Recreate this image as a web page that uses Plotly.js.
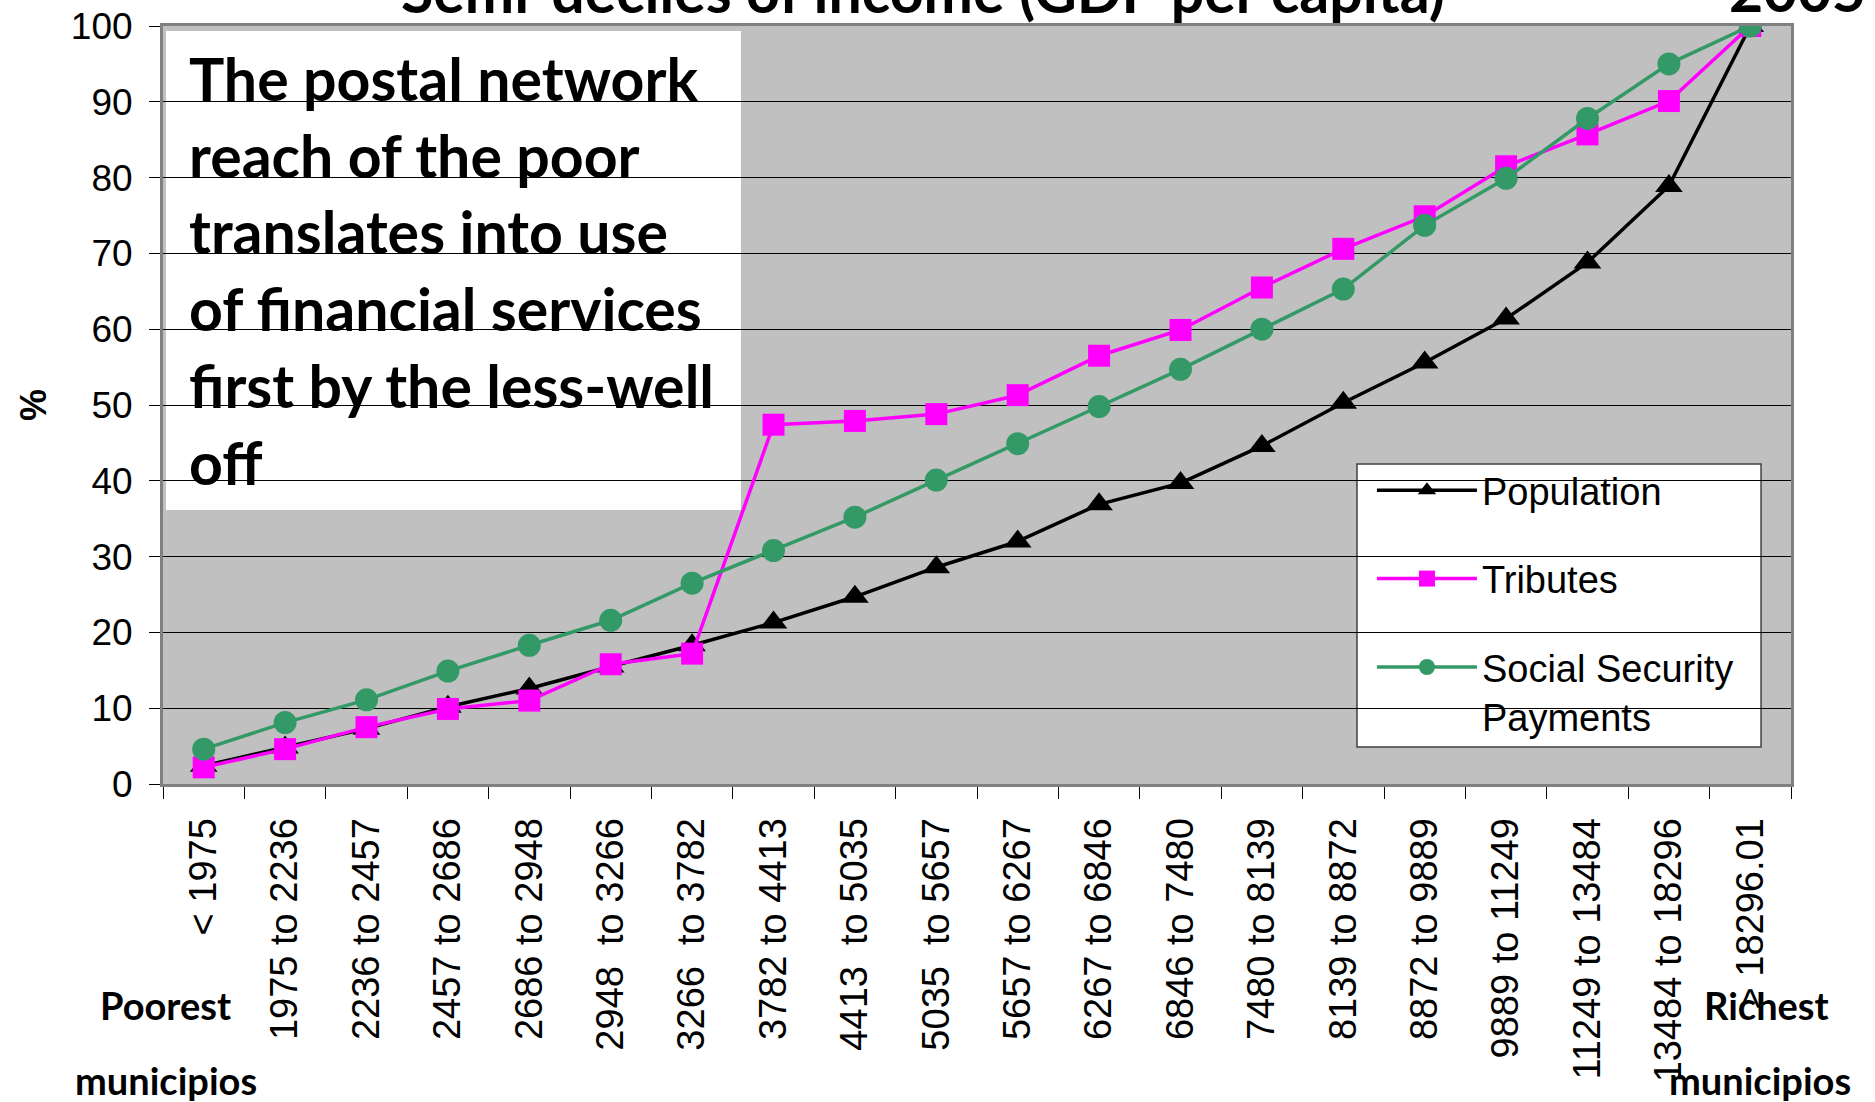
<!DOCTYPE html>
<html>
<head>
<meta charset="utf-8">
<script src="https://cdn.plot.ly/plotly-3.0.1.min.js"></script>
<style>
  html, body { margin: 0; padding: 0; background: #ffffff; }
  #chart { width: 1875px; height: 1102px; }
</style>
</head>
<body>
<div id="chart"></div>
<script>
// Income brackets (GDP per capita), poorest to richest municipios
const categories = [
  '< 1975', '1975 to 2236', '2236 to 2457', '2457 to 2686', '2686 to 2948',
  '2948\u00a0 to 3266', '3266\u00a0 to 3782', '3782 to 4413', '4413\u00a0 to 5035', '5035\u00a0 to 5657',
  '5657 to 6267', '6267 to 6846', '6846 to 7480', '7480 to 8139', '8139 to 8872',
  '8872 to 9889', '9889 to 11249', '11249 to 13484', '13484 to 18296', '> 18296.01'
];

// Cumulative shares (%)
const population = [2.4, 4.8, 7.3, 10.2, 12.6, 15.5, 18.3, 21.3, 24.7, 28.6,
                    32.0, 36.9, 39.7, 44.6, 50.3, 55.6, 61.4, 68.8, 78.9, 100];
const tributes   = [2.2, 4.6, 7.5, 9.9, 11.0, 15.8, 17.2, 47.4, 47.9, 48.8,
                    51.3, 56.5, 59.9, 65.5, 70.6, 74.9, 81.5, 85.7, 90.1, 100];
const socialSecurity = [4.6, 8.1, 11.1, 14.9, 18.3, 21.6, 26.5, 30.8, 35.2, 40.1,
                        44.9, 49.8, 54.7, 60.0, 65.3, 73.7, 79.9, 87.8, 95.0, 100];

const seriesNames = ['Population', 'Tributes', 'Social Security<br>Payments'];
const yTicks = [0, 10, 20, 30, 40, 50, 60, 70, 80, 90, 100];

const ARIAL = 'Liberation Sans, Arial, sans-serif';
const BOLD = 'Lato, Open Sans, sans-serif';

const traces = [
  {
    x: categories, y: population, name: seriesNames[0], type: 'scatter', mode: 'lines+markers',
    line: { color: '#000000', width: 3.5 },
    marker: { symbol: 'triangle-up', size: 24, color: '#000000' },
    legendgroup: 'a'
  },
  {
    x: categories, y: tributes, name: seriesNames[1], type: 'scatter', mode: 'lines+markers',
    line: { color: '#FF00FF', width: 3.5 },
    marker: { symbol: 'square', size: 22, color: '#FF00FF' },
    legendgroup: 'b'
  },
  {
    x: categories, y: socialSecurity, name: seriesNames[2], type: 'scatter', mode: 'lines+markers',
    line: { color: '#339966', width: 3.5 },
    marker: { symbol: 'circle', size: 23, color: '#339966' },
    legendgroup: 'c'
  }
];

const layout = {
  width: 1875, height: 1102,
  margin: { l: 163, r: 84, t: 26, b: 318, pad: 0 },
  paper_bgcolor: '#ffffff',
  plot_bgcolor: '#C0C0C0',
  showlegend: true,
  xaxis: {
    type: 'category',
    categoryorder: 'array', categoryarray: categories,
    range: [-0.5, categories.length - 0.5],
    tickson: 'boundaries',
    ticks: 'outside', ticklen: 12, tickwidth: 1, tickcolor: '#000000',
    tickangle: -90,
    tickfont: { family: ARIAL, size: 38, color: '#000000' },
    ticklabelstandoff: 16,
    showline: true, linecolor: '#808080', linewidth: 3, mirror: true,
    showgrid: false, zeroline: false, automargin: false, fixedrange: true
  },
  yaxis: {
    range: [0, 100], tickmode: 'array', tickvals: yTicks, ticktext: yTicks.map(String),
    ticks: 'outside', ticklen: 11, tickwidth: 1, tickcolor: '#000000',
    tickfont: { family: ARIAL, size: 37, color: '#000000' },
    ticklabelstandoff: 9,
    showgrid: true, gridcolor: '#000000', gridwidth: 1,
    showline: true, linecolor: '#808080', linewidth: 3, mirror: true,
    zeroline: false, automargin: false, fixedrange: true
  },
  legend: {
    x: 0.7426, y: 0.4288, xanchor: 'left', yanchor: 'top',
    bgcolor: 'rgba(0,0,0,0)', borderwidth: 0,
    font: { family: ARIAL, size: 38, color: '#000000' },
    itemwidth: 100, valign: 'top', tracegroupgap: 36, traceorder: 'grouped'
  },
  shapes: [
    // white note panel in the upper left of the plot
    {
      type: 'rect', xref: 'paper', yref: 'paper', layer: 'between',
      x0: 0.0018, x1: 0.3550, y0: 0.3615, y1: 0.9934,
      fillcolor: '#ffffff', line: { width: 0 }
    },
    // legend panel
    {
      type: 'rect', xref: 'paper', yref: 'paper', layer: 'between',
      x0: 0.7334, x1: 0.9816, y0: 0.0488, y1: 0.4222,
      fillcolor: '#ffffff', line: { color: '#404040', width: 1.5 }
    }
  ],
  annotations: [
    {
      text: 'The postal network<br>reach of the poor<br>translates into use<br>of financial services<br>first by the less-well<br>off',
      xref: 'paper', yref: 'paper', x: 0.0147, y: 0.6768, xanchor: 'left', yanchor: 'middle',
      align: 'left', showarrow: false,
      font: { family: BOLD, size: 59, weight: 700, color: '#000000' }
    },
    {
      text: 'Semi-deciles of income (GDP per capita)',
      xref: 'paper', yref: 'paper', x: 0.4668, y: 1.0462, xanchor: 'center', yanchor: 'middle',
      showarrow: false, font: { family: BOLD, size: 59, weight: 700, color: '#000000' }
    },
    {
      text: '2005',
      xref: 'paper', yref: 'paper', x: 1.0037, y: 1.0488, xanchor: 'center', yanchor: 'middle',
      showarrow: false, font: { family: BOLD, size: 59, weight: 700, color: '#000000' }
    },
    {
      text: '%', textangle: -90,
      xref: 'paper', yref: 'paper', x: -0.0799, y: 0.5, xanchor: 'center', yanchor: 'middle',
      showarrow: false, font: { family: ARIAL, size: 36, weight: 700, color: '#000000' }
    },
    {
      text: 'Poorest', xref: 'paper', yref: 'paper', x: 0.0018, y: -0.2916,
      xanchor: 'center', yanchor: 'middle', showarrow: false,
      font: { family: BOLD, size: 38, weight: 700, color: '#000000' }
    },
    {
      text: 'municipios', xref: 'paper', yref: 'paper', x: 0.0018, y: -0.3905,
      xanchor: 'center', yanchor: 'middle', showarrow: false,
      font: { family: BOLD, size: 38, weight: 700, color: '#000000' }
    },
    {
      text: 'Richest', xref: 'paper', yref: 'paper', x: 0.9847, y: -0.2916,
      xanchor: 'center', yanchor: 'middle', showarrow: false,
      font: { family: BOLD, size: 38, weight: 700, color: '#000000' }
    },
    {
      text: 'municipios', xref: 'paper', yref: 'paper', x: 0.9810, y: -0.3905,
      xanchor: 'center', yanchor: 'middle', showarrow: false,
      font: { family: BOLD, size: 38, weight: 700, color: '#000000' }
    }
  ]
};

Plotly.newPlot('chart', traces, layout, { displayModeBar: false, staticPlot: true });
</script>
</body>
</html>
